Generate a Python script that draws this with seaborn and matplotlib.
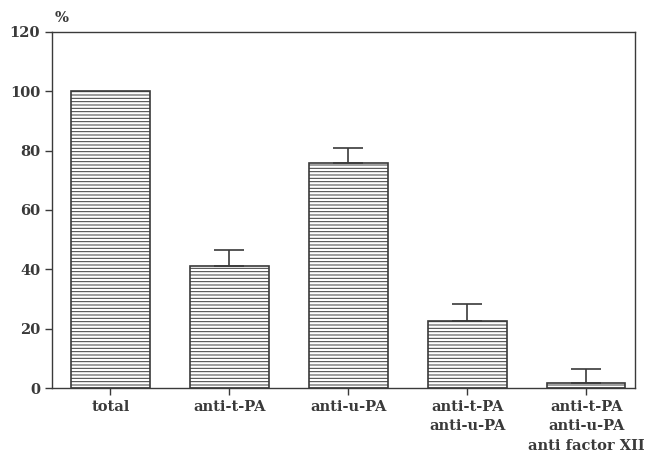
import matplotlib
matplotlib.use('Agg')
import matplotlib.pyplot as plt
import numpy as np
import pandas as pd
import seaborn as sns

categories = ["total", "anti-t-PA", "anti-u-PA",
              "anti-t-PA\nanti-u-PA",
              "anti-t-PA\nanti-u-PA\nanti factor XII"]
values = [100, 41, 75.8, 22.6, 1.7]
err_up = [0, 5.5, 5.1, 5.7, 4.7]
y_ticks = [0, 20, 40, 60, 80, 100, 120]

sns.set_theme(style="ticks")
plt.rcParams['font.family'] = ['DejaVu Serif']
plt.rcParams['font.weight'] = 'bold'
plt.rcParams['hatch.linewidth'] = 0.7
plt.rcParams['hatch.color'] = '#8a8a8a'

ink = '#3a3a3a'

fig = plt.figure(figsize=(6.52, 4.53), dpi=100)
ax = fig.add_axes([52 / 652, 65 / 453, 583 / 652, 356 / 453])

df = pd.DataFrame({"cat": categories, "val": values})
sns.barplot(data=df, x="cat", y="val", ax=ax, color="white",
            edgecolor=ink, linewidth=1.2, width=0.66, errorbar=None)
for p in ax.patches:
    p.set_hatch('-----')

# only the bars that have an error given get a bar (total has none)
idx = [i for i, e in enumerate(err_up) if e > 0]
ax.errorbar(idx, [values[i] for i in idx],
            yerr=[np.zeros(len(idx)), [err_up[i] for i in idx]],
            fmt='none', ecolor=ink, elinewidth=1.2, capsize=11, capthick=1.2)

ax.set_xlim(-0.49, 4.41)
ax.set_ylim(0, 120)
ax.set_yticks(y_ticks)
ax.set_xlabel("")
ax.set_ylabel("")
ax.tick_params(colors=ink, labelsize=10.5, width=1.0, length=5)
for lbl in ax.get_xticklabels() + ax.get_yticklabels():
    lbl.set_fontweight('bold')
    lbl.set_linespacing(1.5)
for s in ax.spines.values():
    s.set_visible(True)
    s.set_color(ink)
    s.set_linewidth(1.0)

ax.text(0.005, 1.02, "%", transform=ax.transAxes, fontsize=10.5,
        fontweight='bold', color=ink, ha='left', va='bottom')

fig.savefig("out.png", dpi=100)
